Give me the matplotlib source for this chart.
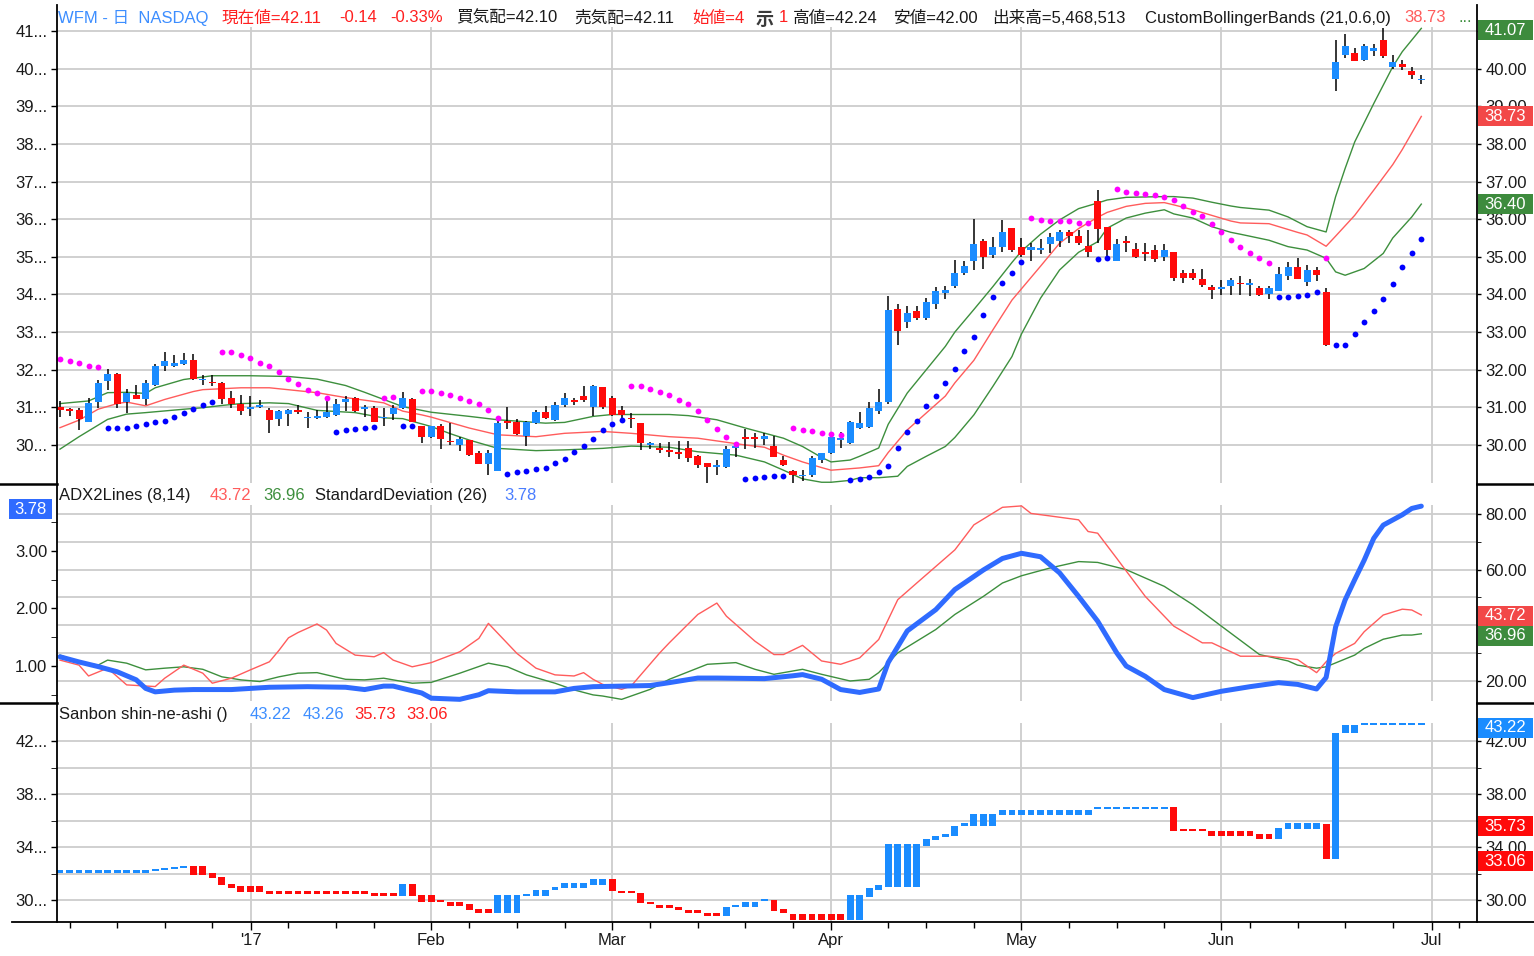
import numpy as np
import matplotlib.pyplot as plt
from matplotlib.patches import Rectangle
from matplotlib.lines import Line2D
from matplotlib.transforms import Affine2D
from matplotlib.ticker import FuncFormatter

plt.rcParams['font.family'] = ['Liberation Sans', 'Noto Sans CJK JP']
plt.rcParams['font.size'] = 12

# ---------------- data (bar index 0..143, daily, Dec 2016 - Jun 2017) ----------------
opens = [31.00, 30.93, 30.93, 30.61, 31.14, 31.69, 31.89, 31.14, 31.32, 31.23,
         31.60, 32.10, 32.10, 32.16, 32.26, 31.73, 31.68, 31.65, 31.25, 31.10,
         30.95, 31.00, 30.93, 30.70, 30.83, 30.93, 30.72, 30.73, 30.74, 30.80,
         31.15, 31.25, 30.95, 30.99, 30.72, 30.82, 30.99, 31.23, 30.50, 30.21,
         30.50, 30.09, 30.00, 30.12, 29.79, 29.50, 29.30, 30.64, 30.60, 30.25,
         30.59, 30.88, 30.66, 31.05, 31.20, 31.30, 31.02, 31.53, 31.26, 30.93,
         30.72, 30.59, 30.00, 29.91, 29.86, 29.82, 29.92, 29.71, 29.52, 29.42,
         29.42, 29.93, 30.20, 30.20, 30.17, 29.96, 29.59, 29.30, 29.17, 29.20,
         29.60, 29.80, 30.12, 30.05, 30.45, 30.48, 30.89, 31.13, 33.61, 33.28,
         33.57, 33.37, 33.75, 34.05, 34.23, 34.58, 34.90, 35.43, 35.05, 35.27,
         35.76, 35.26, 35.19, 35.17, 35.35, 35.43, 35.65, 35.56, 35.29, 36.47,
         35.80, 34.90, 35.43, 35.20, 35.14, 35.19, 35.00, 35.14, 34.58, 34.58,
         34.41, 34.21, 34.14, 34.23, 34.30, 34.26, 34.16, 34.00, 34.10, 34.50,
         34.73, 34.34, 34.66, 34.07, 39.73, 40.37, 40.42, 40.22, 40.46, 40.77,
         40.03, 40.12, 39.94, 39.70]
highs = [31.17, 30.99, 30.99, 31.25, 31.72, 32.02, 31.91, 31.49, 31.60, 31.72,
         32.16, 32.46, 32.40, 32.44, 32.42, 31.87, 31.87, 31.67, 31.43, 31.33,
         31.30, 31.20, 30.99, 30.93, 30.96, 31.07, 30.88, 30.93, 31.17, 31.21,
         31.30, 31.28, 31.07, 31.03, 30.99, 31.07, 31.42, 31.25, 30.50, 30.50,
         30.55, 30.58, 30.20, 30.12, 29.83, 29.88, 30.77, 31.02, 30.69, 30.63,
         30.93, 31.04, 31.14, 31.38, 31.26, 31.57, 31.59, 31.53, 31.30, 31.04,
         30.86, 30.59, 30.08, 30.04, 30.07, 30.10, 30.10, 29.73, 29.52, 29.61,
         29.97, 30.04, 30.43, 30.32, 30.32, 30.23, 29.70, 29.33, 29.33, 29.72,
         29.80, 30.27, 30.34, 30.63, 30.87, 31.14, 31.50, 33.97, 33.75, 33.70,
         33.70, 33.90, 34.19, 34.23, 34.92, 34.88, 36.00, 35.47, 35.52, 35.98,
         35.76, 35.50, 35.38, 35.47, 35.63, 35.72, 35.72, 35.72, 35.72, 36.78,
         35.80, 35.47, 35.56, 35.36, 35.36, 35.32, 35.34, 35.14, 34.65, 34.67,
         34.67, 34.26, 34.39, 34.43, 34.50, 34.40, 34.22, 34.22, 34.73, 34.87,
         34.96, 34.78, 34.72, 34.16, 40.77, 40.91, 40.56, 40.65, 40.65, 41.09,
         40.35, 40.22, 40.04, 39.82]
lows = [30.75, 30.77, 30.40, 30.60, 30.99, 31.47, 30.99, 30.84, 31.21, 31.05,
        31.56, 31.96, 32.07, 32.13, 31.72, 31.60, 31.56, 31.10, 30.99, 30.80,
        30.77, 30.99, 30.32, 30.51, 30.51, 30.82, 30.45, 30.68, 30.72, 30.76,
        30.91, 30.88, 30.75, 30.60, 30.50, 30.67, 30.95, 30.60, 30.06, 30.18,
        29.90, 30.00, 29.85, 29.70, 29.50, 29.20, 29.30, 30.43, 30.27, 29.96,
        30.57, 30.68, 30.63, 31.02, 31.05, 31.14, 30.77, 30.96, 30.77, 30.72,
        30.45, 29.88, 29.90, 29.78, 29.68, 29.63, 29.56, 29.38, 28.98, 29.20,
        29.40, 29.68, 29.90, 29.92, 30.00, 29.67, 29.43, 29.00, 29.05, 29.16,
        29.53, 29.77, 29.93, 30.03, 30.42, 30.45, 30.82, 31.10, 32.66, 33.10,
        33.33, 33.33, 33.60, 33.87, 34.17, 34.51, 34.64, 34.67, 34.96, 35.14,
        35.14, 34.99, 34.88, 35.08, 35.10, 35.27, 35.38, 35.32, 34.99, 35.38,
        34.99, 34.90, 35.12, 34.96, 34.90, 34.85, 34.90, 34.35, 34.30, 34.39,
        34.21, 33.88, 33.99, 33.99, 33.99, 33.95, 33.95, 33.87, 34.10, 34.38,
        34.42, 34.22, 34.36, 32.62, 39.41, 40.27, 40.20, 40.20, 40.33, 40.29,
        40.00, 39.97, 39.73, 39.60]
closes = [30.92, 30.91, 30.68, 31.12, 31.65, 31.89, 31.10, 31.39, 31.23, 31.65,
          32.10, 32.22, 32.19, 32.26, 31.75, 31.73, 31.65, 31.23, 31.10, 30.90,
          31.01, 31.05, 30.67, 30.90, 30.93, 30.88, 30.74, 30.75, 30.88, 31.10,
          31.23, 30.91, 31.00, 30.62, 30.72, 30.99, 31.25, 30.60, 30.21, 30.50,
          30.16, 30.07, 30.15, 29.74, 29.50, 29.79, 30.59, 30.58, 30.30, 30.60,
          30.88, 30.72, 31.05, 31.26, 31.15, 31.20, 31.57, 31.02, 30.81, 30.81,
          30.68, 30.04, 30.05, 29.88, 29.82, 29.77, 29.65, 29.47, 29.41, 29.43,
          29.90, 29.96, 30.17, 30.17, 30.23, 29.67, 29.47, 29.20, 29.19, 29.65,
          29.80, 30.20, 30.18, 30.60, 30.58, 30.97, 31.13, 33.58, 33.02, 33.52,
          33.37, 33.81, 34.08, 34.12, 34.58, 34.76, 35.35, 35.00, 35.26, 35.67,
          35.19, 35.05, 35.26, 35.23, 35.52, 35.67, 35.54, 35.38, 35.14, 35.73,
          35.19, 35.35, 35.38, 34.99, 35.08, 34.94, 35.19, 34.43, 34.43, 34.43,
          34.26, 34.11, 34.21, 34.39, 34.27, 34.29, 33.98, 34.16, 34.54, 34.73,
          34.42, 34.65, 34.51, 32.65, 40.18, 40.59, 40.20, 40.59, 40.56, 40.33,
          40.18, 40.04, 39.82, 39.71]

# parabolic SAR dots
sar = [32.28, 32.22, 32.19, 32.10, 32.07,
       30.44, 30.46, 30.46, 30.51, 30.55, 30.60, 30.65, 30.75, 30.84, 30.96, 31.07, 31.14,
       32.48, 32.48, 32.39, 32.31, 32.19, 32.10, 31.93, 31.75, 31.63, 31.47, 31.37, 31.25,
       30.35, 30.40, 30.42, 30.46, 30.49,
       31.25, 31.28,
       30.51, 30.51,
       31.43, 31.43, 31.39, 31.32, 31.26, 31.17, 31.10, 30.92, 30.72,
       29.22, 29.28, 29.31, 29.35, 29.40, 29.51, 29.64, 29.82, 29.96, 30.15, 30.39, 30.57, 30.67,
       31.57, 31.57, 31.48, 31.41, 31.32, 31.19, 31.08, 30.90, 30.67, 30.42, 30.22, 30.03,
       29.10, 29.13, 29.15, 29.17, 29.17,
       30.45, 30.40, 30.38, 30.33, 30.30, 30.27,
       29.08, 29.10, 29.15, 29.27, 29.45, 29.92, 30.34, 30.65, 31.03, 31.29, 31.65, 32.02,
       32.49, 32.87, 33.46, 33.93, 34.30, 34.58, 34.85,
       36.03, 35.98, 35.96, 35.94, 35.94, 35.91, 35.91,
       34.94, 34.96,
       36.80, 36.73, 36.69, 36.67, 36.65, 36.60, 36.50, 36.35, 36.18, 36.09, 35.88, 35.65,
       35.45, 35.27, 35.10, 34.98, 34.84,
       33.92, 33.92, 33.96, 33.98, 34.07,
       34.98,
       32.65, 32.65, 32.95, 33.27, 33.57, 33.87, 34.29, 34.72, 35.09, 35.46]

# CustomBollingerBands (21,0.6,0)
bb_up_idx = [0, 3, 5, 7, 9, 10, 13, 16, 20, 24, 27, 30, 32, 34, 36, 39, 43, 46, 51, 53,
             56, 58, 64, 66, 69, 72, 76, 78, 80, 81, 83, 84, 86, 87, 89, 91, 93, 94, 96, 98,
             100, 101, 103, 105, 107, 109, 110, 112, 116, 117, 119, 121, 123, 124, 127, 129,
             131, 133, 134, 135, 136, 138, 140, 141, 143]
bb_up = [31.10, 31.17, 31.39, 31.40, 31.37, 31.52, 31.74, 31.84, 31.84, 31.82,
         31.75, 31.58, 31.40, 31.21, 31.02, 30.87, 30.76, 30.67, 30.58, 30.60,
         30.76, 30.81, 30.81, 30.78, 30.67, 30.45, 30.18, 29.96, 29.67, 29.55,
         29.60, 29.70, 29.92, 30.55, 31.38, 32.00, 32.62, 33.00, 33.60, 34.21,
         34.85, 35.15, 35.60, 35.98, 36.28, 36.43, 36.51, 36.58, 36.60, 36.60,
         36.56, 36.45, 36.35, 36.31, 36.24, 36.06, 35.80, 35.66, 36.60, 37.35,
         38.05, 39.07, 40.05, 40.45, 41.07]
bb_mid_idx = [0, 2, 4, 6, 7, 9, 11, 14, 15, 19, 22, 27, 30, 34, 36, 38, 39, 43, 46, 50,
              53, 57, 60, 64, 67, 72, 74, 76, 78, 80, 81, 84, 86, 87, 89, 91, 93, 94, 96, 98,
              100, 101, 103, 105, 107, 109, 110, 112, 114, 116, 117, 119, 121, 123, 124, 127,
              130, 131, 133, 134, 136, 138, 140, 141, 143]
bb_mid = [30.46, 30.66, 30.95, 31.10, 31.14, 31.04, 31.21, 31.42, 31.47, 31.52,
          31.52, 31.39, 31.26, 31.12, 30.90, 30.80, 30.74, 30.45, 30.27, 30.22,
          30.31, 30.36, 30.31, 30.22, 30.18, 30.00, 29.94, 29.73, 29.55, 29.40,
          29.33, 29.39, 29.45, 29.80, 30.40, 30.85, 31.30, 31.65, 32.25, 33.06,
          33.85, 34.15, 34.75, 35.36, 35.75, 36.05, 36.18, 36.34, 36.42, 36.44,
          36.38, 36.25, 36.10, 35.95, 35.90, 35.88, 35.65, 35.58, 35.28, 35.55,
          36.10, 36.77, 37.45, 37.85, 38.73]
bb_lo_idx = [0, 2, 5, 7, 9, 13, 15, 17, 19, 22, 24, 27, 31, 34, 36, 39, 41, 43, 46, 50,
             53, 57, 60, 64, 67, 71, 74, 76, 78, 80, 81, 83, 84, 86, 88, 89, 91, 93, 94, 96,
             98, 100, 101, 103, 105, 107, 109, 110, 112, 114, 116, 117, 119, 121, 123, 124,
             127, 129, 131, 133, 134, 135, 137, 139, 140, 142, 143]
bb_lo = [29.89, 30.22, 30.68, 30.82, 30.86, 30.95, 30.99, 31.05, 31.10, 31.12,
         31.10, 30.92, 30.86, 30.72, 30.70, 30.49, 30.30, 30.13, 29.91, 29.85,
         29.87, 29.91, 29.97, 29.94, 29.82, 29.73, 29.55, 29.33, 29.10, 29.01,
         29.01, 29.06, 29.13, 29.13, 29.17, 29.43, 29.70, 29.96, 30.20, 30.80,
         31.56, 32.35, 32.95, 33.90, 34.65, 35.12, 35.40, 35.76, 36.03, 36.16,
         36.25, 36.14, 36.03, 35.80, 35.65, 35.60, 35.44, 35.27, 35.18, 34.96,
         34.60, 34.51, 34.69, 35.09, 35.50, 36.06, 36.40]

# ADX2Lines (8,14) - right scale
adx_red_idx = [0, 2, 3, 5, 7, 10, 11, 13, 15, 16, 18, 20, 22, 23, 24, 25, 27, 28, 29, 31,
               33, 34, 35, 37, 39, 42, 44, 45, 46, 48, 50, 52, 54, 55, 56, 57, 59, 60, 63, 64,
               67, 69, 70, 73, 75, 76, 78, 80, 82, 84, 86, 88, 90, 94, 96, 99, 101, 102, 104, 107,
               108, 109, 111, 114, 117, 120, 121, 124, 127, 130, 132, 133, 134, 136, 137, 139,
               141, 142, 143]
adx_red = [27.5, 25.7, 21.8, 24.6, 18.6, 18.0, 21.0, 25.7, 22.8, 19.2,
           21.0, 24.0, 26.9, 31.0, 35.5, 37.4, 40.5, 38.3, 33.5, 29.3,
           28.7, 30.2, 27.5, 25.1, 26.6, 30.5, 35.3, 40.7, 37.1, 29.9,
           24.6, 22.2, 21.8, 23.0, 20.6, 18.8, 17.0, 18.2, 30.1, 33.7,
           43.9, 48.0, 43.3, 34.3, 29.5, 29.5, 32.8, 27.2, 26.0, 28.3,
           34.9, 49.2, 55.2, 67.1, 76.1, 82.4, 82.9, 80.2, 79.3, 77.9,
           73.7, 73.1, 64.1, 50.4, 39.7, 33.7, 33.7, 28.9, 28.9, 27.7,
           23.0, 26.9, 29.9, 33.5, 37.7, 43.7, 45.8, 45.5, 43.72]
adx_grn_idx = [0, 2, 4, 5, 7, 9, 11, 13, 15, 17, 19, 21, 23, 25, 27, 30, 32, 34, 35, 37,
               39, 42, 45, 47, 49, 52, 54, 56, 57, 59, 62, 64, 68, 71, 73, 75, 78, 80, 83, 85,
               86, 88, 92, 94, 97, 99, 101, 104, 107, 109, 112, 116, 119, 122, 126, 129, 130,
               132, 133, 136, 137, 139, 141, 142, 143]
adx_grn = [29.3, 26.9, 25.7, 27.5, 26.4, 24.0, 24.6, 25.1, 24.2, 21.5,
           20.4, 19.8, 21.5, 22.8, 23.0, 20.6, 20.4, 21.0, 20.4, 19.2,
           19.5, 22.8, 26.4, 25.1, 22.2, 19.2, 16.8, 15.0, 14.6, 13.4,
           17.0, 20.6, 26.0, 26.6, 24.2, 22.4, 24.2, 22.4, 20.0, 20.6,
           23.0, 30.1, 38.5, 43.9, 50.4, 55.2, 57.8, 60.6, 62.9, 62.6,
           60.0, 54.0, 47.4, 39.7, 29.5, 27.2, 25.7, 24.6, 25.1, 29.3,
           31.7, 35.0, 36.5, 36.5, 36.96]

# StandardDeviation (26) - left scale
sd_idx = [0, 2, 4, 6, 8, 9, 10, 12, 14, 18, 22, 26, 30, 32, 34, 35, 36, 38, 39, 42,
          44, 45, 48, 52, 54, 56, 59, 62, 64, 67, 69, 74, 77, 78, 80, 82, 84, 86, 87, 89,
          92, 94, 97, 99, 101, 103, 105, 107, 109, 111, 112, 114, 116, 119, 122, 125, 128,
          130, 132, 133, 134, 135, 136, 137, 138, 139, 141, 142, 143]
sd = [1.16, 1.07, 0.99, 0.90, 0.76, 0.61, 0.55, 0.58, 0.59, 0.59,
      0.63, 0.64, 0.63, 0.59, 0.65, 0.65, 0.61, 0.53, 0.44, 0.42,
      0.50, 0.57, 0.55, 0.55, 0.61, 0.64, 0.65, 0.66, 0.71, 0.79,
      0.79, 0.78, 0.83, 0.85, 0.77, 0.59, 0.54, 0.60, 1.06, 1.61,
      1.98, 2.33, 2.67, 2.87, 2.96, 2.90, 2.62, 2.21, 1.78, 1.23,
      1.00, 0.82, 0.59, 0.45, 0.56, 0.64, 0.71, 0.68, 0.60, 0.80,
      1.68, 2.15, 2.50, 2.84, 3.22, 3.45, 3.63, 3.74, 3.78]

# Sanbon shin-ne-ashi (three line break): runs of identical blocks
tlb_len = [10, 1, 1, 1, 1, 2, 1, 1, 1, 3, 11, 3, 1, 1, 2, 1, 2, 1, 2, 3,
           1, 2, 1, 3, 2, 1, 2, 1, 1, 2, 1, 2, 2, 1, 1, 2, 1, 1, 1, 6,
           2, 1, 1, 4, 1, 1, 1, 1, 1, 3, 10, 8, 1, 3, 5, 2, 1, 4, 1, 1, 2, 7]
tlb_lo = [32.02, 32.20, 32.25, 32.31, 32.40, 31.90, 31.64, 31.14, 30.88, 30.63,
          30.45, 30.30, 30.30, 30.30, 29.82, 29.85, 29.55, 29.24, 28.99, 28.99,
          30.30, 30.30, 30.76, 30.93, 31.14, 30.68, 30.50, 29.75, 29.70, 29.37,
          29.24, 28.99, 28.79, 28.79, 29.44, 29.44, 29.95, 29.19, 28.99, 28.48,
          28.48, 30.25, 30.76, 31.01, 34.09, 34.50, 34.75, 34.85, 35.56, 35.56,
          36.44, 36.87, 35.18, 35.18, 34.85, 34.60, 34.60, 35.36, 33.06, 33.06,
          42.63, 43.22]
tlb_hi = [32.27, 32.24, 32.29, 32.36, 32.46, 32.55, 32.02, 31.72, 31.21, 31.09,
          30.71, 30.50, 31.21, 31.21, 30.38, 29.92, 29.87, 29.70, 29.30, 30.38,
          30.43, 30.76, 31.00, 31.26, 31.57, 31.60, 30.68, 30.56, 29.87, 29.62,
          29.44, 29.24, 28.99, 29.50, 29.57, 29.87, 30.05, 30.00, 29.30, 28.94,
          30.38, 30.88, 31.14, 34.24, 34.60, 34.80, 35.00, 35.60, 35.81, 36.52,
          36.82, 37.00, 37.02, 35.30, 35.18, 35.00, 35.43, 35.81, 35.73, 42.63,
          43.22, 43.26]
tlb_up = [1, 1, 1, 1, 1, 0, 0, 0, 0, 0, 0, 0, 1, 0, 0, 0, 0, 0, 0, 1,
          1, 1, 1, 1, 1, 0, 0, 0, 0, 0, 0, 0, 0, 1, 1, 1, 1, 0, 0, 0,
          1, 1, 1, 1, 1, 1, 1, 1, 1, 1, 1, 1, 0, 0, 0, 0, 1, 1, 0, 1, 1, 1]

month_pos = [20.06, 38.97, 57.98, 80.99, 100.95, 121.96, 144.1]
month_lbl = ["'17", 'Feb', 'Mar', 'Apr', 'May', 'Jun', 'Jul']
week_pos = [1, 6, 11, 16, 24, 29, 33, 43, 48, 53, 62, 67, 72, 77, 87, 91, 96,
            106, 111, 116, 125, 130, 135, 140, 147]

# ---------------- styling ----------------
UP = '#1a8cff'
DN = '#ff0a0a'
MAG = '#ff00ff'
SARB = '#0000ff'
GRN = '#3d8f3d'
BRED = '#ff5c5c'
SDB = '#2f6bff'
GRID = '#cdcdcd'
TXT = '#1a1a1a'

W, H = 1534, 956
fig = plt.figure(figsize=(W / 100, H / 100), dpi=100)
fig.patch.set_facecolor('white')
PX = Affine2D().scale(1.0 / W, -1.0 / H).translate(0, 1) + fig.transFigure


def add_ax(top, bottom, l=57, r=1477):
    return fig.add_axes([l / W, 1 - bottom / H, (r - l) / W, (bottom - top) / H])


ax1 = add_ax(27, 483)
ax2 = add_ax(505, 701)
ax3 = add_ax(723, 922)
XL = (-0.315, 148.85)


def prep(ax):
    ax.set_xlim(*XL)
    for s in ax.spines.values():
        s.set_visible(False)
    ax.set_xticks(month_pos)
    ax.set_axisbelow(True)
    ax.tick_params(axis='y', labelsize=12, labelcolor=TXT, width=1, length=4, pad=3)


for ax in (ax1, ax2, ax3):
    prep(ax)
    ax.grid(True, axis='x', color=GRID, lw=1.3)
for ax in (ax1, ax2):
    ax.tick_params(axis='x', length=0, labelbottom=False)

fmt_dots = FuncFormatter(lambda v, p: '%d...' % round(v))
fmt_2 = FuncFormatter(lambda v, p: '%.2f' % v)


def fmt_skip(hidden):
    # right-hand labels that sit fully under a value box are not drawn
    return FuncFormatter(lambda v, p: '' if round(v, 2) in hidden else '%.2f' % v)


# ---- top panel: candles, bands, SAR ----
x = np.arange(len(closes))
o, h, l, c = (np.array(a) for a in (opens, highs, lows, closes))
ax1.set_ylim(28.99, 41.106)
ax1.set_yticks(range(30, 42))
ax1.yaxis.set_major_formatter(fmt_dots)
ax1.grid(True, axis='y', color=GRID, lw=1.3)

ax1.plot(bb_up_idx, bb_up, color=GRN, lw=1.0, zorder=2)
ax1.plot(bb_lo_idx, bb_lo, color=GRN, lw=1.0, zorder=2)
ax1.plot(bb_mid_idx, bb_mid, color=BRED, lw=1.0, zorder=2)

ax1.vlines(x, l, h, color='black', lw=1.1, zorder=3)
body_lo = np.minimum(o, c)
body_h = np.maximum(np.abs(c - o), 0.035)
ax1.bar(x, body_h, bottom=body_lo, width=0.74, color=np.where(c >= o, UP, DN),
        lw=0, zorder=4)

s = np.array(sar)
above = s > c
ax1.plot(x[above], s[above], 'o', ms=4.2, color=MAG, mew=0, zorder=5)
ax1.plot(x[~above], s[~above], 'o', ms=4.2, color=SARB, mew=0, zorder=5)

ax1r = ax1.twinx()
prep(ax1r)
ax1.yaxis.tick_left()
ax1r.yaxis.tick_right()
ax1r.set_ylim(ax1.get_ylim())
ax1r.set_yticks(range(30, 42))
ax1r.yaxis.set_major_formatter(fmt_skip({41.0}))
ax1r.tick_params(axis='x', length=0, labelbottom=False)
ax1r.tick_params(axis='y', length=3, pad=3)

# ---- middle panel: ADX (right) + StdDev (left) ----
ax2.set_ylim(12.81, 83.23)
ax2.set_yticks([20, 40, 60, 80])
ax2.set_yticks([30, 50, 70], minor=True)
ax2.yaxis.set_major_formatter(fmt_skip({40.0}))
ax2.grid(True, axis='y', which='both', color=GRID, lw=1.3)
ax2.plot(adx_grn_idx, adx_grn, color=GRN, lw=1.0, zorder=2)
ax2.plot(adx_red_idx, adx_red, color=BRED, lw=1.0, zorder=2)

ax2s = ax2.twinx()
prep(ax2s)
ax2.yaxis.tick_right()
ax2.tick_params(axis='y', which='both', length=3, pad=3)
ax2s.yaxis.tick_left()
ax2s.set_ylim(0.391, 3.80)
ax2s.set_yticks([1, 2, 3])
ax2s.set_yticks([0.5, 1.5, 2.5, 3.5], minor=True)
ax2s.yaxis.set_major_formatter(fmt_2)
ax2s.tick_params(axis='y', which='both', length=4, pad=3)
ax2s.tick_params(axis='x', length=0, labelbottom=False)
ax2s.plot(sd_idx, sd, color=SDB, lw=3.6, zorder=3, solid_capstyle='round', clip_on=False)

# ---- bottom panel: three line break blocks ----
ax3.set_ylim(28.34, 43.36)
ax3.set_yticks([30, 34, 38, 42])
ax3.set_yticks([32, 36, 40], minor=True)
ax3.yaxis.set_major_formatter(fmt_dots)
ax3.grid(True, axis='y', which='both', color=GRID, lw=1.3)
blo = np.repeat(tlb_lo, tlb_len)
bhi = np.repeat(tlb_hi, tlb_len)
bup = np.repeat(tlb_up, tlb_len).astype(bool)
ax3.bar(x, np.maximum(bhi - blo, 0.15), bottom=blo, width=0.72,
        color=np.where(bup, UP, DN), lw=0, zorder=3)
ax3.set_xticklabels(month_lbl)
ax3.set_xticks(week_pos, minor=True)
ax3.tick_params(axis='x', which='major', length=6, width=1, pad=2, labelsize=12,
                labelcolor=TXT)
ax3.tick_params(axis='x', which='minor', length=4.3, width=1)

ax3r = ax3.twinx()
prep(ax3r)
ax3.yaxis.tick_left()
ax3.tick_params(axis='y', which='both', length=4)
ax3r.yaxis.tick_right()
ax3r.set_ylim(ax3.get_ylim())
ax3r.set_yticks([30, 34, 38, 42])
ax3r.set_yticks([32, 36, 40], minor=True)
ax3r.yaxis.set_major_formatter(fmt_2)
ax3r.tick_params(axis='x', which='both', length=0, labelbottom=False)
ax3r.tick_params(axis='y', which='both', length=3, pad=3)

# ---- frame lines ----
for xs, ys, lw in [([57, 57], [5, 922], 1.3), ([1477, 1477], [5, 922], 1.3),
                   ([12, 1534], [922, 922], 1.3),
                   ([0, 57], [484, 484], 1.8), ([1477, 1534], [484, 484], 1.8),
                   ([0, 57], [703, 703], 1.8), ([1477, 1534], [703, 703], 1.8)]:
    fig.add_artist(Line2D(xs, ys, transform=PX, color='black', lw=lw))

# ---- header texts ----
HB = '#3d8eff'
HR = '#ff1f1f'
headers = [
    (18, [(58, 'WFM - 日  NASDAQ', HB), (222, '現在値=42.11', HR), (339, '-0.14', HR),
          (390, '-0.33%', HR), (456, '買気配=42.10', TXT), (574, '売気配=42.11', TXT),
          (692, '始値=4', HR), (779, '1', HR), (793, '高値=42.24', TXT),
          (893, '安値=42.00', TXT), (992, '出来高=5,468,513', TXT),
          (1145, 'CustomBollingerBands (21,0.6,0)', TXT),
          (1404, '38.73', BRED), (1458, '...', GRN)]),
    (496, [(59, 'ADX2Lines (8,14)', TXT), (210, '43.72', BRED), (263, '36.96', GRN),
           (315, 'StandardDeviation (26)', TXT), (504, '3.78', '#4a7dff')]),
    (715, [(59, 'Sanbon shin-ne-ashi ()', TXT), (250, '43.22', HB), (303, '43.26', HB),
           (354, '35.73', HR), (406, '33.06', HR)]),
]
for yc, segs in headers:
    for xx, txt, col in segs:
        fig.text(xx, yc, txt, transform=PX, color=col, fontsize=12, ha='left', va='center')
fig.text(765, 20, '示', transform=PX, color='#3a3a3a', fontsize=13, fontweight='bold',
         ha='center', va='center')


# ---- value boxes ----
def ypix(ax, v):
    return H - ax.transData.transform((0, v))[1]


def vbox(xl, xr, yc, txt, fc):
    fig.add_artist(Rectangle((xl, yc - 10), xr - xl, 20, transform=PX, fc=fc, ec='none'))
    fig.text((xl + xr) / 2, yc, txt, transform=PX, color='white', fontsize=12,
             ha='center', va='center')


vbox(1478, 1533, ypix(ax1, bb_up[-1]) + 2, '%.2f' % bb_up[-1], '#3d8b3d')
vbox(1478, 1533, ypix(ax1, bb_mid[-1]), '%.2f' % bb_mid[-1], '#f24848')
vbox(1478, 1533, ypix(ax1, bb_lo[-1]), '%.2f' % bb_lo[-1], '#3d8b3d')
vbox(1478, 1533, ypix(ax2, adx_red[-1]) + 1, '%.2f' % adx_red[-1], '#f24848')
vbox(1478, 1533, ypix(ax2, adx_grn[-1]) + 2, '%.2f' % adx_grn[-1], '#3d8b3d')
vbox(9, 52, ypix(ax2s, sd[-1]) + 3, '%.2f' % sd[-1], SDB)
vbox(1478, 1533, ypix(ax3, tlb_lo[-1]) + 3, '%.2f' % tlb_lo[-1], UP)
vbox(1478, 1533, ypix(ax3, tlb_hi[-4]) + 2, '%.2f' % tlb_hi[-4], DN)
vbox(1478, 1533, ypix(ax3, tlb_lo[-4]) + 2, '%.2f' % tlb_lo[-4], DN)

fig.savefig('out.png', dpi=100, facecolor='white')
